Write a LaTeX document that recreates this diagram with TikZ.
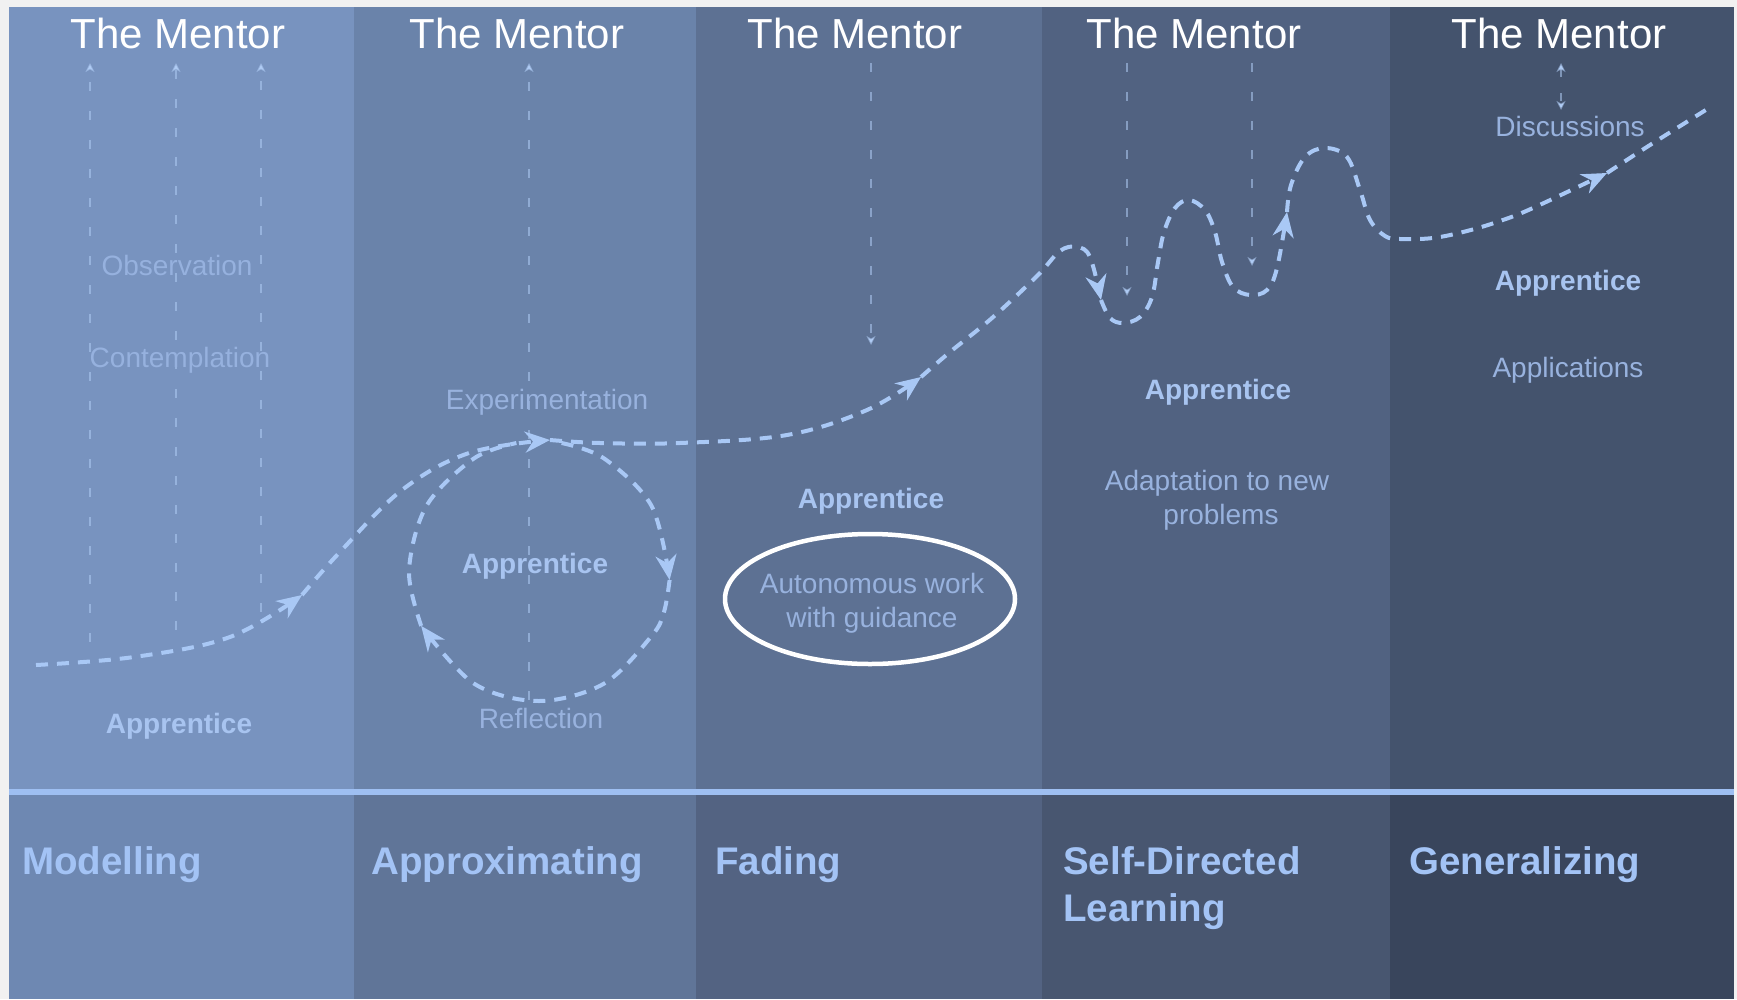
\documentclass[tikz,border=0pt]{standalone}
\usepackage{fontspec}
\setmainfont{Liberation Sans}
\usetikzlibrary{arrows.meta}
\definecolor{margin}{HTML}{F1F1F1}
\definecolor{cAt}{HTML}{7893BF}
\definecolor{cBt}{HTML}{6A83AA}
\definecolor{cCt}{HTML}{5D7193}
\definecolor{cDt}{HTML}{516281}
\definecolor{cEt}{HTML}{44536D}
\definecolor{cAb}{HTML}{6E88B2}
\definecolor{cBb}{HTML}{607598}
\definecolor{cCb}{HTML}{536382}
\definecolor{cDb}{HTML}{485670}
\definecolor{cEb}{HTML}{39455C}
\definecolor{hl}{HTML}{9EBFF2}
\definecolor{lblc}{HTML}{98B2DE}
\definecolor{faintc}{HTML}{96B1DE}
\definecolor{apprc}{HTML}{A8C4F0}
\definecolor{stagec}{HTML}{A3C3F5}
\definecolor{curvec}{HTML}{A9C8F5}
\definecolor{guidec}{HTML}{B0CCF5}
\begin{document}
\begin{tikzpicture}[x=1pt,y=-1pt,
  mentor/.style={text=white, font=\fontsize{42}{50}\selectfont, anchor=base, inner sep=0pt},
  lbl/.style={text=lblc, font=\fontsize{28}{34}\selectfont, anchor=base, inner sep=0pt},
  faint/.style={text=faintc, font=\fontsize{28}{34}\selectfont, anchor=base, inner sep=0pt},
  appr/.style={text=apprc, font=\bfseries\fontsize{28}{34}\selectfont, anchor=base, inner sep=0pt},
  stage/.style={text=stagec, font=\bfseries\fontsize{38.5}{46}\selectfont, anchor=base west, inner sep=0pt},
  curve/.style={draw=curvec, line width=4pt, dash pattern=on 12pt off 9pt},
  curvearrow/.style={-{Stealth[length=25pt,width=21pt,inset=8pt]}},
  guide/.style={draw=guidec, draw opacity=0.55, line width=1.8pt, dash pattern=on 9pt off 20pt},
  guidearrow/.style={-{Stealth[length=9pt,width=9pt,inset=2.5pt]}},
  guideboth/.style={{Stealth[length=9pt,width=9pt,inset=2.5pt]}-{Stealth[length=9pt,width=9pt,inset=2.5pt]}},
  ring/.style={draw=white, line width=4.5pt}
]
\useasboundingbox (0,0) rectangle (1737,999);
\fill[margin] (0,0) rectangle (1737,999);
% columns
\fill[cAt] (9,7) rectangle (354,789);
\fill[cBt] (354,7) rectangle (696,789);
\fill[cCt] (696,7) rectangle (1042,789);
\fill[cDt] (1042,7) rectangle (1390,789);
\fill[cEt] (1390,7) rectangle (1734,789);
\fill[cAb] (9,795) rectangle (354,999);
\fill[cBb] (354,795) rectangle (696,999);
\fill[cCb] (696,795) rectangle (1042,999);
\fill[cDb] (1042,795) rectangle (1390,999);
\fill[cEb] (1390,795) rectangle (1734,999);
\fill[hl] (9,789) rectangle (1734,795);

% mentor headers
\node[mentor] (m1) at (178,48) {The Mentor};
\node[mentor] (m2) at (517,48) {The Mentor};
\node[mentor] (m3) at (855,48) {The Mentor};
\node[mentor] (m4) at (1194,48) {The Mentor};
\node[mentor] (m5) at (1559,48) {The Mentor};

% guide lines
\coordinate (g1a) at (90,642);  \coordinate (g1b) at (90,63);
\coordinate (g2a) at (176,630); \coordinate (g2b) at (176,63);
\coordinate (g3a) at (261,612); \coordinate (g3b) at (261,63);
\coordinate (g4a) at (529,700); \coordinate (g4b) at (529,63);
\coordinate (g5a) at (871,63);  \coordinate (g5b) at (871,345);
\coordinate (g6a) at (1127,63); \coordinate (g6b) at (1127,296);
\coordinate (g7a) at (1252,63); \coordinate (g7b) at (1252,266);
\coordinate (g8a) at (1561,63); \coordinate (g8b) at (1561,110);
\draw[guide, guidearrow] (g1a) -- (g1b);
\draw[guide, guidearrow] (g2a) -- (g2b);
\draw[guide, guidearrow] (g3a) -- (g3b);
\draw[guide, guidearrow] (g4a) -- (g4b);
\draw[guide, guidearrow] (g5a) -- (g5b);
\draw[guide, guidearrow] (g6a) -- (g6b);
\draw[guide, guidearrow] (g7a) -- (g7b);
\draw[guide, guideboth, dash pattern=on 8pt off 16pt] (g8a) -- (g8b);

% labels
\node[faint] (obs) at (177,275) {Observation};
\node[faint] (con) at (180,367) {Contemplation};
\node[appr] (ap1) at (179,733) {Apprentice};
\node[lbl] (exp) at (547,409) {Experimentation};
\node[appr] (ap2) at (535,573) {Apprentice};
\node[lbl] (ref) at (541,728) {Reflection};
\node[appr] (ap3) at (871,508) {Apprentice};
\node[lbl] (aw1) at (872,593) {Autonomous work};
\node[lbl] (aw2) at (872,627) {with guidance};
\node[appr] (ap4) at (1218,399) {Apprentice};
\node[lbl] (ad1) at (1217,490) {Adaptation to new};
\node[lbl] (ad2) at (1221,524) {problems};
\node[lbl] (dis) at (1570,136) {Discussions};
\node[appr] (ap5) at (1568,290) {Apprentice};
\node[lbl] (app) at (1568,377) {Applications};

% ellipse around autonomous work
\coordinate (ell) at (870,599);
\draw[ring] (ell) ellipse [x radius=145pt, y radius=65pt];

% main curve
\coordinate (p0) at (36,665);
\coordinate (a1) at (302,595);
\coordinate (a2) at (550,440);
\coordinate (a3) at (921,377);
\coordinate (a4) at (1101,300);
\coordinate (a5) at (1287,212);
\coordinate (a6) at (1607,173);
\coordinate (pend) at (1709,108);
\draw[curve, curvearrow] plot[smooth, tension=0.6] coordinates {(p0) (134,657) (230,637) (a1)};
\draw[curve, curvearrow] plot[smooth, tension=0.6] coordinates {(a1) (339,553) (402,490) (469,453) (a2)};
\draw[curve, curvearrow] plot[smooth, tension=0.6] coordinates {(a2) (600,443) (680,443) (787,435) (867,410) (a3)};
\draw[curve, curvearrow] plot[smooth, tension=0.6] coordinates {(a3) (950,352) (992,318) (1037,276) (1060,251) (1077,247) (1090,257) (a4)};
\draw[curve, curvearrow] plot[smooth, tension=0.6] coordinates {(a4) (1110,318) (1123,323) (1140,317) (1152,297) (1158,262) (1164,232) (1175,208) (1189,200) (1205,210) (1215,232) (1222,262) (1233,287) (1250,295) (1267,290) (1277,268) (a5)};
\draw[curve, curvearrow] plot[smooth, tension=0.6] coordinates {(a5) (1291,185) (1305,157) (1325,148) (1347,157) (1360,190) (1370,220) (1385,236) (1400,239) (1433,238) (1467,231) (1500,221) (1533,208) (a6)};
\draw[curve] plot[smooth, tension=0.6] coordinates {(a6) (1650,145) (pend)};

% reflection loop
\coordinate (c0) at (561.6,443);
\coordinate (c1) at (669.6,580);
\coordinate (c2) at (421.2,625.9);
\coordinate (c3) at (516.4,443);
\draw[curve, curvearrow] plot[smooth, tension=0.55] coordinates {(c0) (604,458.4) (651.6,506) (c1)};
\draw[curve, curvearrow] plot[smooth, tension=0.55] coordinates {(c1) (664,612) (651.6,636) (604,683.6) (539,701) (474,683.6) (c2)};
\draw[curve] plot[smooth, tension=0.55] coordinates {(c2) (409,571) (426.4,506) (474,458.4) (c3)};

% stage labels
\node[stage] (s1) at (22,874) {Modelling};
\node[stage] (s2) at (371,874) {Approximating};
\node[stage] (s3) at (715,874) {Fading};
\node[stage] (s4a) at (1063,874) {Self-Directed};
\node[stage] (s4b) at (1063,921) {Learning};
\node[stage] (s5) at (1409,874) {Generalizing};
\end{tikzpicture}
\end{document}
